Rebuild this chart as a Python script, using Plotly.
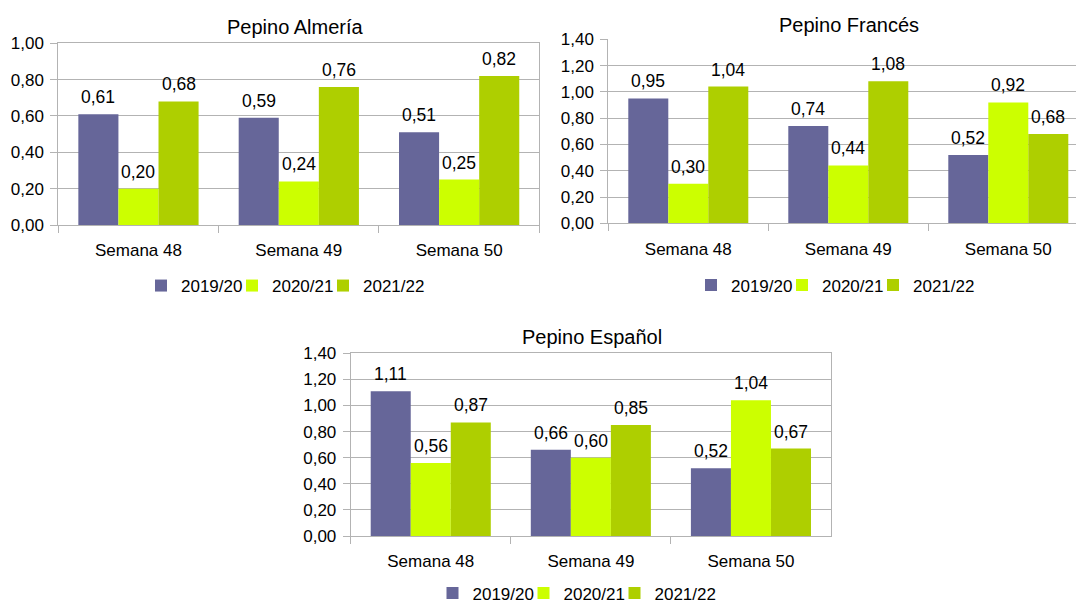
import plotly.graph_objects as go

# ---- data ----
categories = ["Semana 48", "Semana 49", "Semana 50"]
series_names = ["2019/20", "2020/21", "2021/22"]

almeria_2019 = [0.61, 0.59, 0.51]
almeria_2020 = [0.20, 0.24, 0.25]
almeria_2021 = [0.68, 0.76, 0.82]

frances_2019 = [0.95, 0.74, 0.52]
frances_2020 = [0.30, 0.44, 0.92]
frances_2021 = [1.04, 1.08, 0.68]

espanol_2019 = [1.11, 0.66, 0.52]
espanol_2020 = [0.56, 0.60, 1.04]
espanol_2021 = [0.87, 0.85, 0.67]

titles = ["Pepino Almería", "Pepino Francés", "Pepino Español"]
colors = ["#666699", "#ccff00", "#aecf00"]

FONT = "Liberation Sans"
W, H = 1076, 603
GRID = "#b3b3b3"
BARGAP = 0.25
LEG_PITCH = 91
LEG_TEXT_OFFSET = 41


def fmt(v):
    return f"{v:.2f}".replace(".", ",")


charts = [
    dict(data=[almeria_2019, almeria_2020, almeria_2021], xa="x", ya="y",
         xdom=[58.3, 539.3], ydom=[43.3, 225], ymax=1.0, xr=[-0.5, 2.5],
         title_xy=(295, 27.5), leg_x0=182, leg_y=286, mirror=True),
    dict(data=[frances_2019, frances_2020, frances_2021], xa="x2", ya="y2",
         xdom=[608.3, 1076], ydom=[39.3, 223.3], ymax=1.4, xr=[-0.5, -0.5 + (1076 - 608.3) / 160],
         title_xy=(848.5, 25.5), leg_x0=732, leg_y=285.5, mirror=False),
    dict(data=[espanol_2019, espanol_2020, espanol_2021], xa="x3", ya="y3",
         xdom=[350.7, 831], ydom=[353.3, 536], ymax=1.4, xr=[-0.5, 2.5],
         title_xy=(592, 337), leg_x0=473.5, leg_y=593.5, mirror=True),
]

fig = go.Figure()
layout = dict(
    width=W, height=H, margin=dict(l=0, r=0, t=0, b=0, autoexpand=False),
    paper_bgcolor="white", plot_bgcolor="white", showlegend=True,
    font=dict(family=FONT, size=17, color="black"),
    barmode="group", bargap=BARGAP, bargroupgap=0,
    annotations=[],
)

n_series = 3
slot = (1 - BARGAP) / n_series
leg_n = 0
for ci, c in enumerate(charts):
    for si, vals in enumerate(c["data"]):
        leg_n += 1
        leg_id = "legend" if leg_n == 1 else f"legend{leg_n}"
        fig.add_trace(go.Bar(
            x=categories, y=vals, name=series_names[si],
            marker=dict(color=colors[si], line=dict(width=0)),
            xaxis=c["xa"], yaxis=c["ya"], legend=leg_id, showlegend=True,
            hovertemplate="%{x}<br>" + series_names[si] + ": %{y:.2f}<extra></extra>",
        ))
        # value labels above each bar, placed through the axis scales
        for i, v in enumerate(vals):
            layout["annotations"].append(dict(
                text=fmt(v), x=i + (si - (n_series - 1) / 2) * slot, y=v,
                xref=c["xa"], yref=c["ya"], xanchor="center", yanchor="bottom",
                yshift=5, showarrow=False,
                font=dict(family=FONT, size=17.5, color="black"),
            ))
        layout[leg_id] = dict(
            orientation="h",
            x=(c["leg_x0"] + si * LEG_PITCH - LEG_TEXT_OFFSET) / W,
            y=1 - c["leg_y"] / H,
            xanchor="left", yanchor="middle", font=dict(size=17),
            bgcolor="rgba(0,0,0,0)", borderwidth=0,
        )
    sfx = "" if ci == 0 else str(ci + 1)
    layout["xaxis" + sfx] = dict(
        domain=[c["xdom"][0] / W, c["xdom"][1] / W], anchor="y" + sfx,
        range=c["xr"], showgrid=False, showline=True, mirror=c["mirror"],
        linecolor=GRID, linewidth=1, ticks="outside", tickson="boundaries",
        ticklen=7, tickcolor=GRID, tickfont=dict(size=17), ticklabelstandoff=10,
        fixedrange=True, automargin=False,
    )
    layout["yaxis" + sfx] = dict(
        domain=[1 - c["ydom"][1] / H, 1 - c["ydom"][0] / H], anchor="x" + sfx,
        range=[0, c["ymax"] + 1e-6], dtick=0.2, tickformat=".2f",
        showgrid=True, gridcolor=GRID, gridwidth=1, zeroline=False,
        showline=True, mirror=c["mirror"], linecolor=GRID, linewidth=1,
        ticks="outside", ticklen=7, tickcolor=GRID, tickfont=dict(size=17),
        ticklabelstandoff=3, fixedrange=True, automargin=False,
    )
    layout["annotations"].append(dict(
        text=titles[ci], x=c["title_xy"][0] / W, y=1 - c["title_xy"][1] / H,
        xref="paper", yref="paper", xanchor="center", yanchor="middle",
        showarrow=False, font=dict(family=FONT, size=20, color="black"),
    ))

layout["separators"] = ",."
fig.update_layout(**layout)
fig.write_html(
    "out.html",
    config={"displayModeBar": False},
    post_script="document.body.style.margin='0';document.body.style.overflow='hidden';",
)
